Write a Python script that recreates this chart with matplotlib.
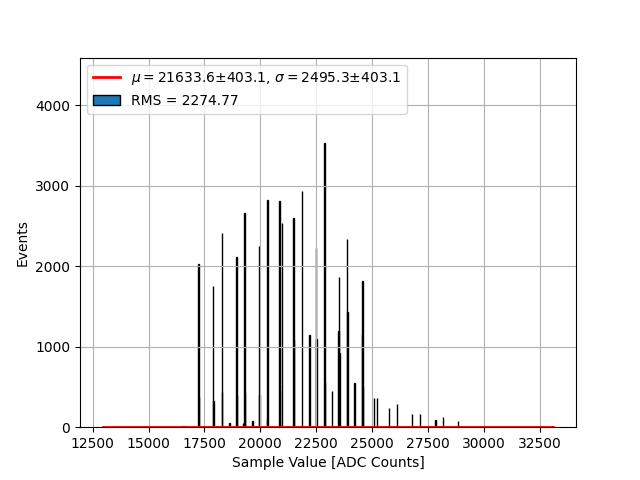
import numpy as np
import matplotlib
matplotlib.use("Agg")
import matplotlib.pyplot as plt

# Histogram content (ADC value of the filled bin, number of events)
adc_values = [16562, 17232, 17252, 17562, 17901, 17921, 18268, 18288, 18616,
              18937, 18957, 19214, 19285, 19305, 19642, 19955, 19975,
              20292, 20312, 20848, 20868, 20982, 21473, 21493, 21874,
              22187, 22499, 22519, 22879, 22899, 23187,
              23502, 23522, 23542, 23883, 23903, 24196,
              24539, 24559, 24579, 25075, 25222, 25758, 26115,
              26785, 27142, 27829, 28169, 28838]
events = [15, 2025, 377, 20, 1756, 324, 2412, 440, 46,
          2113, 400, 50, 2661, 420, 79, 2254, 400,
          108, 2818, 2810, 460, 2536, 2599, 1083, 2930,
          1140, 2225, 1092, 3533, 564, 448,
          1190, 1864, 925, 2337, 1430, 548,
          1154, 1822, 510, 365, 365, 233, 283,
          170, 158, 85, 121, 73]

adc_min, adc_max = 12940, 33110
n_bins = 1000

# Gaussian fit result
mu, mu_err = 21633.6, 403.1
sigma, sigma_err = 2495.3, 403.1
rms = 2274.77

fig, ax = plt.subplots(figsize=(6.4, 4.8), dpi=100)

xfit = np.linspace(adc_min, adc_max, 500)
yfit = np.exp(-0.5 * ((xfit - mu) / sigma) ** 2) / (sigma * np.sqrt(2 * np.pi))
ax.plot(xfit, yfit, color='red', linewidth=2,
        label=rf'$\mu=${mu}±{mu_err}, $\sigma=${sigma}±{sigma_err}')

bins = np.linspace(adc_min, adc_max, n_bins + 1)
ax.hist(adc_values, bins=bins, weights=events, color='#1f77b4',
        edgecolor='black', label=f'RMS = {rms:.2f}')

ax.set_ylim(0, 1.3 * max(events))
ax.set_xlabel('Sample Value [ADC Counts]')
ax.set_ylabel('Events')
ax.grid(True)
ax.legend(loc='upper left')

plt.savefig('out.png', dpi=100)
